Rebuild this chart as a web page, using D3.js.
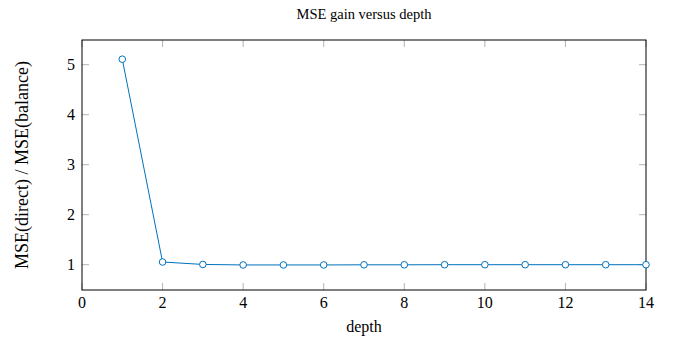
<!DOCTYPE html>
<html><head><meta charset="utf-8">
<script src="https://cdn.jsdelivr.net/npm/d3@7"></script>
<style>body{margin:0;background:#fff;} text{font-family:"Liberation Serif","Times New Roman",serif;fill:#000;}</style>
</head><body>
<svg id="c" width="674" height="337"></svg>
<script>
const depth = [1,2,3,4,5,6,7,8,9,10,11,12,13,14];
const ratio = [5.11,1.054,1.005,0.995,0.995,0.995,0.998,0.998,1.0,1.0,1.0,1.0,1.0,1.0];
const xTicks = [0,2,4,6,8,10,12,14];
const yTicks = [1,2,3,4,5];
const title = "MSE gain versus depth";
const xLabel = "depth";
const yLabel = "MSE(direct) / MSE(balance)";

const svg = d3.select("#c");
const L=82,R=646,T=40,B=290;
const x = d3.scaleLinear().domain([0,14]).range([L,R]);
const y = d3.scaleLinear().domain([0.494,5.494]).range([B,T]);
const color = "#0072BD";
const tl = 7, tc = "#a0a0a0";

const g = svg.append("g");
xTicks.forEach(v=>{
  g.append("line").attr("x1",x(v)).attr("x2",x(v)).attr("y1",B).attr("y2",B-tl).attr("stroke",tc).attr("stroke-width",0.8);
  g.append("line").attr("x1",x(v)).attr("x2",x(v)).attr("y1",T).attr("y2",T+tl).attr("stroke",tc).attr("stroke-width",0.8);
  g.append("text").attr("x",x(v)).attr("y",B+18).attr("text-anchor","middle").attr("font-size",16).text(v);
});
yTicks.forEach(v=>{
  g.append("line").attr("x1",L).attr("x2",L+tl).attr("y1",y(v)).attr("y2",y(v)).attr("stroke",tc).attr("stroke-width",0.8);
  g.append("line").attr("x1",R).attr("x2",R-tl).attr("y1",y(v)).attr("y2",y(v)).attr("stroke",tc).attr("stroke-width",0.8);
  g.append("text").attr("x",L-7).attr("y",y(v)).attr("dy","0.35em").attr("text-anchor","end").attr("font-size",16).text(v);
});

svg.append("rect").attr("x",L).attr("y",T).attr("width",R-L).attr("height",B-T).attr("fill","none").attr("stroke","#000").attr("stroke-width",1);

const pts = depth.map((d,i)=>[d,ratio[i]]);
svg.append("path").datum(pts).attr("fill","none").attr("stroke",color).attr("stroke-width",1)
  .attr("d",d3.line().x(d=>x(d[0])).y(d=>y(d[1])));
svg.selectAll("circle.m").data(pts).enter().append("circle").attr("class","m")
  .attr("cx",d=>x(d[0])).attr("cy",d=>y(d[1])).attr("r",3.3)
  .attr("fill","#fff").attr("stroke",color).attr("stroke-width",1);

svg.append("text").attr("x",(L+R)/2).attr("y",19).attr("text-anchor","middle").attr("font-size",14.5).text(title);
svg.append("text").attr("x",(L+R)/2).attr("y",332).attr("text-anchor","middle").attr("font-size",16).text(xLabel);
svg.append("text").attr("transform",`translate(28,${(T+B)/2}) rotate(-90)`).attr("text-anchor","middle").attr("font-size",18).text(yLabel);
</script>
</body></html>
